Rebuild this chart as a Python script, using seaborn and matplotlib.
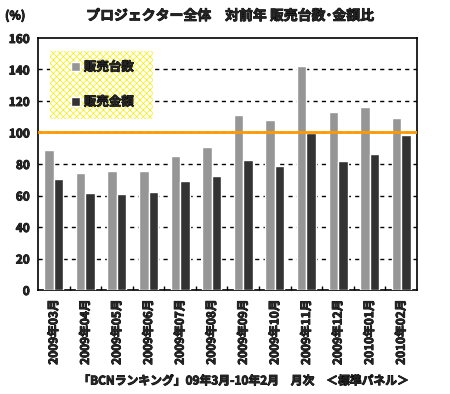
import matplotlib
matplotlib.use("Agg")
import matplotlib.pyplot as plt
import matplotlib.patheffects as pe
from matplotlib.patches import Rectangle
from matplotlib.ticker import FixedLocator
import pandas as pd
import seaborn as sns

sns.set_theme(style="white")
plt.rcParams['font.family'] = ['Noto Sans CJK JP', 'DejaVu Sans']
plt.rcParams['font.weight'] = 'bold'
plt.rcParams['hatch.linewidth'] = 0.5

# data
months = ["2009年03月", "2009年04月", "2009年05月", "2009年06月", "2009年07月", "2009年08月",
          "2009年09月", "2009年10月", "2009年11月", "2009年12月", "2010年01月", "2010年02月"]
units = [88.6, 74.0, 75.3, 75.3, 84.8, 91.1, 110.8, 108.2, 142.4, 113.3, 116.5, 108.9]
amount = [70.3, 61.4, 60.8, 62.0, 69.0, 72.2, 82.3, 78.5, 99.4, 81.6, 86.1, 98.1]
series = ["販売台数", "販売金額"]

df = pd.DataFrame({
    "month": months * 2,
    "value": units + amount,
    "series": [series[0]] * len(months) + [series[1]] * len(months),
})

bold = [pe.withStroke(linewidth=0.6, foreground='black')]

fig = plt.figure(figsize=(4.5, 3.94), dpi=100)
ax = fig.add_axes([38 / 450, 1 - 290 / 394, 379 / 450, 252 / 394])

sns.barplot(data=df, x="month", y="value", hue="series", order=months, hue_order=series,
            palette=["#969696", "#333333"], width=0.6, saturation=1, ax=ax, zorder=3,
            legend=False)

ax.set_ylim(0, 160)
ax.set_xlim(-0.5, len(months) - 0.5)
ax.set_yticks(range(0, 161, 20))
ax.set_yticklabels([str(v) for v in range(0, 161, 20)], fontsize=8.5, fontweight='bold')
ax.set_xticks(range(len(months)))
ax.set_xticklabels(months, rotation=90, fontsize=8.5, fontweight='bold')
ax.tick_params(axis='x', length=0, pad=7)
ax.tick_params(axis='y', length=0, pad=6)
ax.xaxis.set_minor_locator(FixedLocator([i + 0.5 for i in range(len(months) - 1)]))
ax.tick_params(axis='x', which='minor', direction='in', length=3, width=1, color='black', bottom=True)
ax.set_xlabel("")
ax.set_ylabel("")
for t in ax.get_xticklabels() + ax.get_yticklabels():
    t.set_path_effects(bold)

for y in range(20, 160, 20):
    ax.axhline(y, color='black', lw=1, ls=(0, (3, 3)), zorder=1)
ax.axhline(100, color='#FF9900', lw=2, zorder=5)

for s in ax.spines.values():
    s.set_color('black')
    s.set_linewidth(1.2)

# legend with yellow patterned background
ax.add_patch(Rectangle((0.032, 0.679), 0.271, 0.269, transform=ax.transAxes,
                       facecolor='white', edgecolor='#F5F000', hatch='xxxxx', lw=0, zorder=2))
handles = [Rectangle((0, 0), 1, 1, facecolor=c) for c in ["#969696", "#333333"]]
leg = ax.legend(handles, series, loc='upper left', bbox_to_anchor=(0.088, 0.91),
                frameon=False, fontsize=9, handlelength=0.7, handleheight=0.7,
                handletextpad=0.3, labelspacing=1.75, borderpad=0, borderaxespad=0)
for t in leg.get_texts():
    t.set_fontweight('bold')
    t.set_path_effects(bold)
leg.set_zorder(6)

fig.text(5 / 450, 1 - 16 / 394, "(%)", fontsize=8.5, fontweight='bold', va='center', ha='left',
         path_effects=bold)
fig.text(230 / 450, 1 - 16 / 394, "プロジェクター全体　対前年 販売台数･金額比", fontsize=10,
         fontweight='bold', va='center', ha='center', path_effects=bold)
fig.text(243 / 450, 1 - 381 / 394, "「BCNランキング」09年3月-10年2月　月次　＜標準パネル＞",
         fontsize=8.5, fontweight='bold', va='center', ha='center', path_effects=bold)

fig.savefig("out.png", dpi=100, facecolor='white')
